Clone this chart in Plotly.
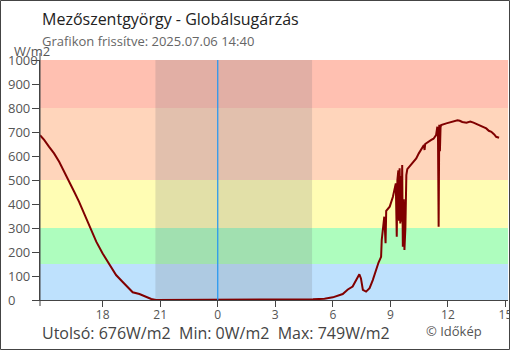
import plotly.graph_objects as go

# ---- data ----
times = [
    "2025-07-05 14:44", "2025-07-05 14:57", "2025-07-05 15:12", "2025-07-05 15:28", "2025-07-05 15:44",
    "2025-07-05 16:00", "2025-07-05 16:15", "2025-07-05 16:31", "2025-07-05 16:46", "2025-07-05 17:02",
    "2025-07-05 17:17", "2025-07-05 17:28", "2025-07-05 17:40", "2025-07-05 18:00", "2025-07-05 18:21",
    "2025-07-05 18:42", "2025-07-05 19:02", "2025-07-05 19:23", "2025-07-05 19:34", "2025-07-05 19:55",
    "2025-07-05 20:16", "2025-07-05 20:32", "2025-07-05 20:47", "2025-07-06 04:16", "2025-07-06 04:58",
    "2025-07-06 05:34", "2025-07-06 06:00", "2025-07-06 06:31", "2025-07-06 06:47", "2025-07-06 07:02",
    "2025-07-06 07:13", "2025-07-06 07:23", "2025-07-06 07:28", "2025-07-06 07:34", "2025-07-06 07:44",
    "2025-07-06 07:55", "2025-07-06 08:05", "2025-07-06 08:16", "2025-07-06 08:23", "2025-07-06 08:31",
    "2025-07-06 08:33", "2025-07-06 08:41", "2025-07-06 08:45", "2025-07-06 08:47", "2025-07-06 08:58",
    "2025-07-06 09:08", "2025-07-06 09:12", "2025-07-06 09:17", "2025-07-06 09:20", "2025-07-06 09:22",
    "2025-07-06 09:25", "2025-07-06 09:27", "2025-07-06 09:29", "2025-07-06 09:31", "2025-07-06 09:33",
    "2025-07-06 09:35", "2025-07-06 09:37", "2025-07-06 09:39", "2025-07-06 09:42", "2025-07-06 09:44",
    "2025-07-06 09:47", "2025-07-06 09:50", "2025-07-06 09:53", "2025-07-06 10:00", "2025-07-06 10:16",
    "2025-07-06 10:21", "2025-07-06 10:29", "2025-07-06 10:41", "2025-07-06 10:45", "2025-07-06 10:47",
    "2025-07-06 10:49", "2025-07-06 11:08", "2025-07-06 11:15", "2025-07-06 11:23", "2025-07-06 11:27",
    "2025-07-06 11:29", "2025-07-06 11:31", "2025-07-06 11:33", "2025-07-06 11:35", "2025-07-06 11:37",
    "2025-07-06 11:39", "2025-07-06 11:55", "2025-07-06 12:16", "2025-07-06 12:30", "2025-07-06 12:37",
    "2025-07-06 12:45", "2025-07-06 12:58", "2025-07-06 13:10", "2025-07-06 13:20", "2025-07-06 13:39",
    "2025-07-06 13:50", "2025-07-06 14:00", "2025-07-06 14:08", "2025-07-06 14:16", "2025-07-06 14:25",
    "2025-07-06 14:31", "2025-07-06 14:40",
]
values = [
    687, 667, 639, 611, 576,
    535, 493, 451, 410, 361,
    319, 285, 243, 194, 146,
    104, 76, 49, 32, 25,
    14, 4, 0, 0, 3,
    5, 11, 25, 44, 56,
    83, 107, 90, 42, 35,
    49, 83, 132, 156, 180,
    250, 347, 237, 371, 389,
    430, 455, 486, 264, 500,
    540, 330, 549, 319, 517,
    326, 562, 222, 420, 208,
    300, 520, 545, 556, 583,
    590, 611, 639, 646, 625,
    650, 667, 672, 687, 722,
    680, 305, 730, 620, 720,
    729, 736, 743, 749, 747,
    742, 739, 744, 739, 729,
    722, 715, 705, 701, 690,
    680, 676,
]

band_edges = [0, 150, 300, 500, 800, 1000]
band_colors = ["#bee1fd", "#aefdbe", "#fffdb4", "#ffd5bb", "#ffc0b1"]
y_ticks = [0, 100, 200, 300, 400, 500, 600, 700, 800, 900, 1000]
x_tickvals = ["2025-07-05 18:00", "2025-07-05 21:00", "2025-07-06 00:00", "2025-07-06 03:00",
              "2025-07-06 06:00", "2025-07-06 09:00", "2025-07-06 12:00", "2025-07-06 15:00"]
x_ticktext = ["18", "21", "0", "3", "6", "9", "12", "15"]
x_range = ["2025-07-05 14:44", "2025-07-06 15:08"]
night = ["2025-07-05 20:45", "2025-07-06 04:55"]
midnight = "2025-07-06 00:00"

title = "Mezőszentgyörgy - Globálsugárzás"
subtitle = "Grafikon frissítve: 2025.07.06 14:40"
stats = "Utolsó: 676W/m2  Min: 0W/m2  Max: 749W/m2"
credit = "© Időkép"
unit = "W/m2"

FONT = "Open Sans"
W, H = 510, 350
L, R, T, B = 40, 2, 60, 50
PW, PH = W - L - R, H - T - B

def px(x):
    return (x - L) / PW

def py(y):
    return (H - B - y) / PH

fig = go.Figure()
fig.add_trace(go.Scatter(
    x=times, y=values, mode="lines",
    line=dict(color="#800000", width=2),
    hoverinfo="skip", showlegend=False,
))

shapes = []
for i, c in enumerate(band_colors):
    shapes.append(dict(type="rect", xref="paper", yref="y", x0=0, x1=1,
                       y0=band_edges[i], y1=band_edges[i + 1],
                       fillcolor=c, line=dict(width=0), layer="below"))
shapes.append(dict(type="rect", xref="x", yref="paper", x0=night[0], x1=night[1],
                   y0=0, y1=1, fillcolor="rgba(110,110,120,0.2)",
                   line=dict(width=0), layer="below"))
shapes.append(dict(type="line", xref="x", yref="paper", x0=midnight, x1=midnight,
                   y0=0, y1=1, line=dict(color="#2196f3", width=1.2)))
# left axis line extension
shapes.append(dict(type="line", xref="paper", yref="paper", x0=0, x1=0,
                   y0=py(306), y1=py(53), line=dict(color="#444", width=1)))
# outer frame
shapes.append(dict(type="rect", xref="paper", yref="paper",
                   x0=px(0.5), x1=px(509.5), y0=py(349.5), y1=py(0.5),
                   line=dict(color="#444", width=1), fillcolor="rgba(0,0,0,0)"))

ann = []
for t in y_ticks:
    ann.append(dict(text=str(t), xref="paper", yref="y", x=px(6), y=t,
                    xanchor="left", yanchor="middle", showarrow=False,
                    font=dict(family=FONT, size=13, color="#555")))
ann.append(dict(text=unit, xref="paper", yref="paper", x=px(12), y=py(51),
                xanchor="left", yanchor="middle", showarrow=False,
                font=dict(family=FONT, size=13, color="#555")))
ann.append(dict(text=title, xref="paper", yref="paper", x=px(40), y=py(19),
                xanchor="left", yanchor="middle", showarrow=False,
                font=dict(family=FONT, size=16, color="#222")))
ann.append(dict(text=subtitle, xref="paper", yref="paper", x=px(40), y=py(41),
                xanchor="left", yanchor="middle", showarrow=False,
                font=dict(family=FONT, size=13, color="#666")))
ann.append(dict(text=stats, xref="paper", yref="paper", x=px(40), y=py(333),
                xanchor="left", yanchor="middle", showarrow=False,
                font=dict(family=FONT, size=16, color="#444")))
ann.append(dict(text=credit, xref="paper", yref="paper", x=px(424), y=py(331),
                xanchor="left", yanchor="middle", showarrow=False,
                font=dict(family=FONT, size=13, color="#555")))

fig.update_layout(
    width=W, height=H,
    margin=dict(l=L, r=R, t=T, b=B, autoexpand=False),
    paper_bgcolor="white", plot_bgcolor="rgba(0,0,0,0)",
    shapes=shapes, annotations=ann,
    font=dict(family=FONT, size=13, color="#555"),
    xaxis=dict(type="date", range=x_range, tickvals=x_tickvals, ticktext=x_ticktext,
               ticks="outside", ticklen=6, tickcolor="#444", ticklabeloverflow="allow",
               ticklabelstandoff=-2, automargin=False,
               showline=True, linecolor="#444", linewidth=1, showgrid=False,
               zeroline=False, tickfont=dict(family=FONT, size=12, color="#555")),
    yaxis=dict(range=[0, 1000], tickvals=y_ticks, ticks="outside", ticklen=7,
               tickcolor="#444", showticklabels=False, showline=True, automargin=False,
               linecolor="#444", linewidth=1, showgrid=False, zeroline=False),
)

fig.write_html("out.html")
